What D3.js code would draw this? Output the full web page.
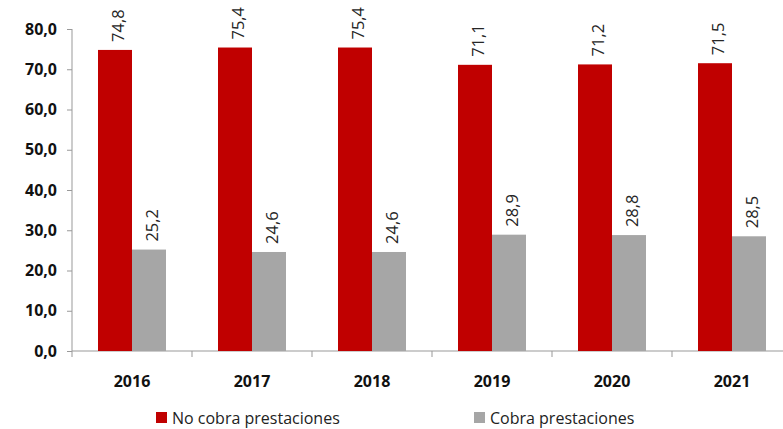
<!DOCTYPE html>
<html><head><meta charset="utf-8">
<script src="https://cdn.jsdelivr.net/npm/d3@7"></script>
<style>body{margin:0;background:#fff}svg{display:block}</style>
</head><body><svg id="c" width="783" height="429"></svg>
<script>
const categories = ["2016","2017","2018","2019","2020","2021"];
const seriesNames = ["No cobra prestaciones","Cobra prestaciones"];
const noCobra = [74.8,75.4,75.4,71.1,71.2,71.5];
const cobra = [25.2,24.6,24.6,28.9,28.8,28.5];
const yTicks = [0,10,20,30,40,50,60,70,80];
const colors = ["#C00000","#A6A6A6"];

const svg = d3.select("#c");
const font = "'Open Sans', 'Noto Sans', sans-serif";
const x0 = d3.scaleBand().domain(categories).range([72,792]).paddingInner(0).paddingOuter(0);
const x1 = d3.scaleBand().domain([0,1]).range([26,94]);
const y = d3.scaleLinear().domain([0,80]).range([351,29]);
const fmt = v => d3.format(".1f")(v).replace(".",",");

// y axis
const ya = svg.append("g").attr("transform","translate(72,0)")
  .call(d3.axisLeft(y).tickValues(yTicks).tickSize(5).tickPadding(10).tickFormat(fmt));
ya.select(".domain").attr("stroke","#999").attr("d","M0,29V351");
ya.selectAll(".tick line").attr("stroke","#999");
ya.selectAll(".tick text").attr("font-family",font).attr("font-size",16).attr("font-weight","bold").attr("fill","#111");

// x axis
const xa = svg.append("g").attr("transform","translate(0,351)")
  .call(d3.axisBottom(x0).tickSize(0).tickPadding(0));
xa.select(".domain").attr("stroke","#999").attr("d","M72,0H792");
xa.selectAll(".tick text").attr("font-family",font).attr("font-size",16).attr("font-weight","bold").attr("fill","#111").attr("dy",0).attr("y",36);
// category boundary ticks
svg.append("g").selectAll("line").data(categories).join("line")
  .attr("x1",d=>x0(d)).attr("x2",d=>x0(d)).attr("y1",351).attr("y2",357).attr("stroke","#999");

const series = [noCobra, cobra];
series.forEach((vals,si)=>{
  const g = svg.append("g");
  g.selectAll("rect").data(vals).join("rect")
    .attr("x",(d,i)=>x0(categories[i])+x1(si))
    .attr("width",x1.bandwidth())
    .attr("y",d=>y(d)).attr("height",d=>y(0)-y(d))
    .attr("fill",colors[si]);
  g.selectAll("text").data(vals).join("text")
    .attr("transform",(d,i)=>`translate(${x0(categories[i])+x1(si)+x1.bandwidth()/2+2},${y(d)-8}) rotate(-90)`)
    .attr("dominant-baseline","central")
    .attr("font-family",font).attr("font-size",16.5).attr("fill","#262626")
    .text(d=>fmt(d));
});

// legend
const leg = [{x:156},{x:474}];
seriesNames.forEach((n,i)=>{
  svg.append("rect").attr("x",leg[i].x).attr("y",412).attr("width",11).attr("height",11).attr("fill",colors[i]);
  svg.append("text").attr("x",leg[i].x+16).attr("y",424).attr("font-family",font).attr("font-size",16).attr("fill","#222").text(n);
});
</script></body></html>
